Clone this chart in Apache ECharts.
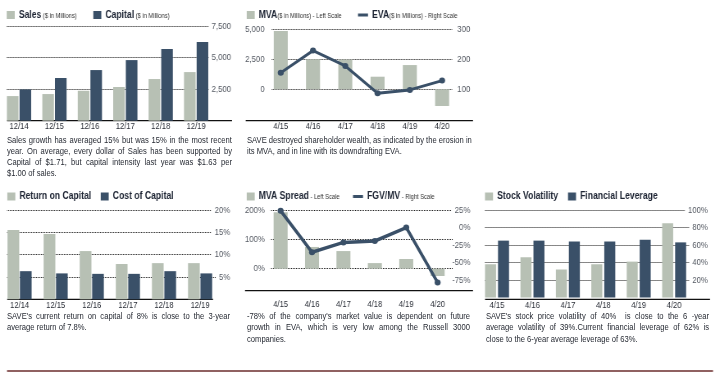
<!DOCTYPE html>
<html>
<head>
<meta charset="utf-8">
<script src="https://cdn.jsdelivr.net/npm/echarts@6/dist/echarts.min.js"></script>
<style>
  html, body { margin: 0; background: #fff; overflow: hidden; }
  /* the page is laid out 1/0.82 wider and squeezed back, so Liberation Sans reads like Arial Narrow */
  #page { position: relative; width: 876.8px; height: 375px; transform: scaleX(0.82); transform-origin: 0 0; }
  #chart { position: absolute; left: 0; top: 0; width: 876.8px; height: 375px; }
  .note {
    position: absolute;
    font-family: 'Liberation Sans', Arial, sans-serif;
    font-size: 9.3px;
    line-height: 11.3px;
    color: #262a33;
  }
  .note div { white-space: nowrap; text-align: justify; text-align-last: justify; }
  .note div.last { text-align-last: left; }
</style>
</head>
<body>
<div id="page">
  <div id="chart"></div>
  <div class="note" style="left:8.5px;top:134.5px;width:274.4px;">
    <div>Sales growth has averaged 15% but was 15% in the most recent</div>
    <div>year. On average, every dollar of Sales has been supported by</div>
    <div>Capital of $1.71, but capital intensity last year was $1.63 per</div>
    <div class="last">$1.00 of sales.</div>
  </div>
  <div class="note" style="left:301.2px;top:134.5px;width:272px;">
    <div>SAVE destroyed shareholder wealth, as indicated by the erosion in</div>
    <div class="last">its MVA, and in line with its downdrafting EVA.</div>
  </div>
  <div class="note" style="left:8.5px;top:311px;width:272px;">
    <div>SAVE's current return on capital of 8% is close to the 3-year</div>
    <div class="last">average return of 7.8%.</div>
  </div>
  <div class="note" style="left:301.2px;top:311px;width:272px;">
    <div>-78% of the company's market value is dependent on future</div>
    <div>growth in EVA, which is very low among the Russell 3000</div>
    <div class="last">companies.</div>
  </div>
  <div class="note" style="left:592.7px;top:311px;width:272px;">
    <div>SAVE's stock price volatility of 40%&nbsp; is close to the 6 -year</div>
    <div>average volatility of 39%.Current financial leverage of 62% is</div>
    <div class="last">close to the 6-year average leverage of 63%.</div>
  </div>
</div>
<script>
// categories
const years = ['12/14', '12/15', '12/16', '12/17', '12/18', '12/19'];
const quarters = ['4/15', '4/16', '4/17', '4/18', '4/19', '4/20'];

// series values
const sales = [1950, 2110, 2370, 2670, 3300, 3850];
const capital = [2480, 3380, 4010, 4800, 5670, 6230];
const mva = [4860, 2500, 2480, 1050, 2020, -1390];
const eva = [155, 229, 178, 87, 98, 129];
const roc = [15.5, 14.6, 10.8, 7.9, 8.1, 8.1];
const coc = [6.3, 5.8, 5.7, 5.7, 6.3, 5.8];
const mvaSpread = [192, 74, 60, 19, 33, -25];
const fgvMv = [24, -35, -21, -19, 0, -78];
const stockVol = [38, 46, 32, 38, 41, 85];
const finLev = [65, 65, 64, 64, 66, 63];

// legend suffixes (small text)
const legendNotes = {
  'Sales': ' ($ in Millions)',
  'Capital': ' ($ in Millions)',
  'MVA': '($ in Millions) - Left Scale',
  'EVA': '($ in Millions) - Right Scale',
  'MVA Spread': ' - Left Scale',
  'FGV/MV': ' - Right Scale'
};

const LIGHT = '#b7c0b4';
const DARK = '#3a5068';
const FONT = "'Liberation Sans', Arial, sans-serif";

// horizontal squeeze of the page, x values below are given in screen px and widened by X()
const K = 0.82;
const X = v => v / K;
const W = 719;

const fmtNum = v => v.toLocaleString('en-US');
const fmtPct = v => v + '%';

const chart = echarts.init(document.getElementById('chart'));

const legendItem = (name, left, top, isLine) => ({
  data: [{ name: name, icon: 'rect' }],
  left: X(left),
  top: top,
  padding: 0,
  icon: 'rect',
  itemWidth: X(isLine ? 10 : 8),
  itemHeight: isLine ? 3 : 8,
  selectedMode: false,
  formatter: n => '{m|' + n + '}' + (legendNotes[n] ? '{s|' + legendNotes[n] + '}' : ''),
  textStyle: {
    rich: {
      m: { fontFamily: FONT, fontSize: 10.5, fontWeight: 'bold', color: '#1d2433' },
      s: { fontFamily: FONT, fontSize: 7, color: '#333', padding: [2, 0, 0, 0] }
    }
  }
});

const catAxis = (grid, data, margin) => ({
  type: 'category',
  gridIndex: grid,
  data: data,
  axisLine: { show: false },
  axisTick: { show: false },
  axisLabel: { color: '#2b2f38', fontSize: 9.3, fontFamily: FONT, margin: margin }
});

// pad = white strip to the inner side of the label that hides the end of the dotted grid line
const valAxis = (grid, pos, min, max, interval, fmt, margin, split, pad) => ({
  type: 'value',
  gridIndex: grid,
  position: pos,
  min: min,
  max: max,
  interval: interval,
  axisLine: { show: false },
  axisTick: { show: false },
  axisLabel: {
    color: '#555a63',
    fontSize: 9.5,
    fontFamily: FONT,
    showMinLabel: false,
    align: 'right',
    margin: X(margin),
    formatter: fmt,
    backgroundColor: '#fff',
    padding: pos === 'right' ? [0, 0, 0, X(pad || 0)] : [0, X(pad || 0), 0, 0]
  },
  splitLine: {
    show: split,
    showMinLine: false,
    lineStyle: { color: '#111', type: 'dotted', width: 1 }
  }
});

// grid from screen edges
const box = (x1, x2, top, bottom) => ({
  left: X(x1), right: X(W - x2), top: top, bottom: 375 - bottom, outerBoundsMode: 'none'
});

const rule = (x1, x2, y, color, w) => ({
  type: 'line',
  silent: true,
  shape: { x1: X(x1), y1: y, x2: X(x2), y2: y },
  style: { stroke: color, lineWidth: w }
});

// white strip so the dotted grid lines start where the reference starts them
const mask = (x1, x2, y1, y2) => ({
  type: 'rect',
  silent: true,
  z: 1,
  shape: { x: X(x1), y: y1, width: X(x2 - x1), height: y2 - y1 },
  style: { fill: '#fff' }
});

const option = {
  animation: false,
  backgroundColor: '#fff',
  grid: [
    box(1.3, 213.7, 26, 120.7),
    box(264.6, 458.1, 29.3, 119.3),
    box(1.5, 218, 210, 299.3),
    box(264.9, 453.2, 210, 298),
    box(479.3, 691.7, 210, 297.5)
  ],
  legend: [
    legendItem('Sales', 6.7, 9.5),
    legendItem('Capital', 93.3, 9.5),
    legendItem('MVA', 246.7, 9.5),
    legendItem('EVA', 358, 9.5, true),
    legendItem('Return on Capital', 7.3, 191),
    legendItem('Cost of Capital', 100.7, 191),
    legendItem('MVA Spread', 246.7, 191),
    legendItem('FGV/MV', 353, 191, true),
    legendItem('Stock Volatility', 485, 191),
    legendItem('Financial Leverage', 568, 191)
  ],
  xAxis: [
    catAxis(0, years, 1),
    catAxis(1, quarters, 2.4),
    catAxis(2, years, 1.8),
    catAxis(3, quarters, 2.2),
    catAxis(4, quarters, 3)
  ],
  yAxis: [
    valAxis(0, 'right', 0, 7500, 2500, fmtNum, 17.3, true, 3),
    valAxis(1, 'left', -2500, 5000, 2500, fmtNum, -7, true, 7),
    valAxis(1, 'right', 0, 300, 100, fmtNum, 12, false, 5),
    valAxis(2, 'right', 0, 20, 5, fmtPct, 12, true, 3),
    valAxis(3, 'left', -100, 200, 100, fmtPct, -5.5, true, 5.5),
    valAxis(3, 'right', -100, 25, 25, fmtPct, 17, false, 3),
    valAxis(4, 'right', 0, 100, 20, fmtPct, 16, true, 3)
  ],
  series: [
    { name: 'Sales', type: 'bar', xAxisIndex: 0, yAxisIndex: 0, data: sales, barWidth: X(11.6), barGap: '9%', itemStyle: { color: LIGHT } },
    { name: 'Capital', type: 'bar', xAxisIndex: 0, yAxisIndex: 0, data: capital, barWidth: X(11.6), barGap: '9%', itemStyle: { color: DARK } },

    { name: 'MVA', type: 'bar', xAxisIndex: 1, yAxisIndex: 1, data: mva, barWidth: X(14), itemStyle: { color: LIGHT } },
    { name: 'EVA', type: 'line', xAxisIndex: 1, yAxisIndex: 2, data: eva, z: 5,
      symbol: 'circle', symbolSize: [X(6), 6], lineStyle: { color: DARK, width: 3 }, itemStyle: { color: DARK } },

    { name: 'Return on Capital', type: 'bar', xAxisIndex: 2, yAxisIndex: 3, data: roc, barWidth: X(11.7), barGap: '6%', itemStyle: { color: LIGHT } },
    { name: 'Cost of Capital', type: 'bar', xAxisIndex: 2, yAxisIndex: 3, data: coc, barWidth: X(11.7), barGap: '6%', itemStyle: { color: DARK } },

    { name: 'MVA Spread', type: 'bar', xAxisIndex: 3, yAxisIndex: 4, data: mvaSpread, barWidth: X(14), itemStyle: { color: LIGHT } },
    { name: 'FGV/MV', type: 'line', xAxisIndex: 3, yAxisIndex: 5, data: fgvMv, z: 5,
      symbol: 'circle', symbolSize: [X(6), 6], lineStyle: { color: DARK, width: 3.5 }, itemStyle: { color: DARK } },

    { name: 'Stock Volatility', type: 'bar', xAxisIndex: 4, yAxisIndex: 6, data: stockVol, barWidth: X(11), barGap: '18%', itemStyle: { color: LIGHT } },
    { name: 'Financial Leverage', type: 'bar', xAxisIndex: 4, yAxisIndex: 6, data: finLev, barWidth: X(11), barGap: '18%', itemStyle: { color: DARK } }
  ],
  graphic: [
    mask(0, 6.5, 24, 122),
    mask(0, 7, 208, 301),
    mask(478, 484.7, 208, 301),
    rule(7, 232, 120.7, '#111', 1.3),
    rule(245.7, 473, 120.7, '#111', 1.3),
    rule(7, 213, 299.3, '#111', 1.3),
    rule(245, 473, 290.7, '#111', 1.3),
    rule(485, 710, 299.3, '#111', 1.3),
    rule(7, 713, 371, '#6b2c2c', 1.3)
  ]
};

chart.setOption(option);
window.addEventListener('resize', () => chart.resize());
</script>
</body>
</html>
